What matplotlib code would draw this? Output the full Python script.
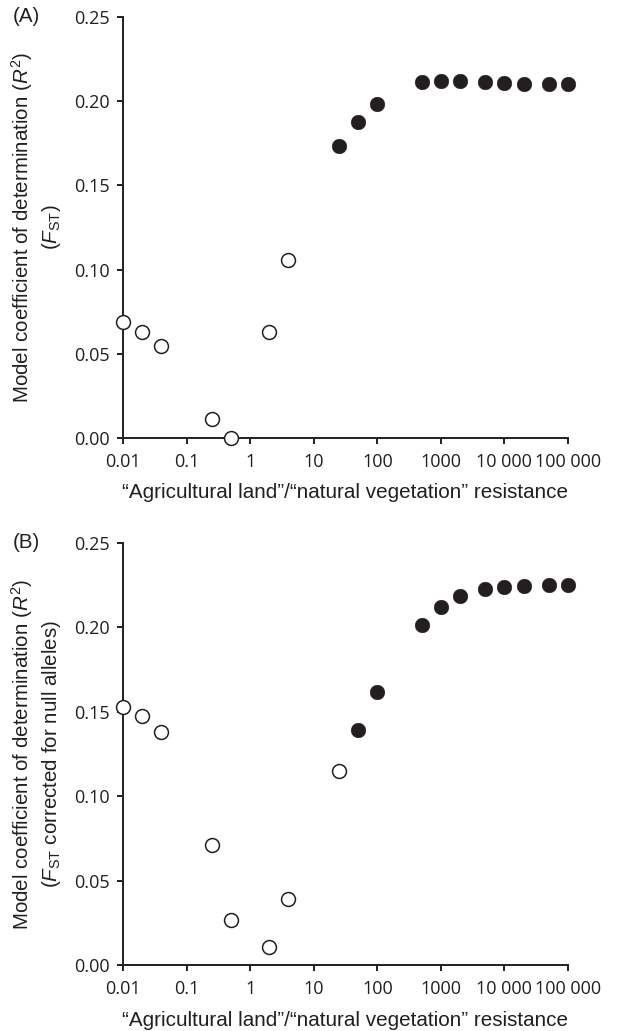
import matplotlib
matplotlib.use("Agg")
import matplotlib.pyplot as plt
from matplotlib.ticker import NullLocator

plt.rcParams['font.family'] = ['Liberation Sans', 'DejaVu Sans']
plt.rcParams['mathtext.fontset'] = 'custom'
plt.rcParams['mathtext.rm'] = 'Liberation Sans'
plt.rcParams['mathtext.it'] = 'Liberation Sans:italic'
plt.rcParams['mathtext.bf'] = 'Liberation Sans:bold'

# ---- data ----
resistance = [0.01, 0.02, 0.04, 0.25, 0.5, 2, 4, 25, 50, 100, 500, 1000, 2000,
              5000, 10000, 20000, 50000, 100000]

r2_fst = [0.0686, 0.0628, 0.0547, 0.0115, 0.0, 0.0628, 0.1057, 0.1733, 0.1875,
          0.1982, 0.2115, 0.2122, 0.2120, 0.2113, 0.2107, 0.2105, 0.2103, 0.2103]
filled_fst = [False, False, False, False, False, False, False, True, True, True,
              True, True, True, True, True, True, True, True]

r2_fst_null = [0.1530, 0.1474, 0.1381, 0.0708, 0.0265, 0.0107, 0.0389, 0.1152,
               0.1393, 0.1617, 0.2016, 0.2121, 0.2184, 0.2229, 0.2241, 0.2247,
               0.2253, 0.2253]
filled_null = [False, False, False, False, False, False, False, False, True, True,
               True, True, True, True, True, True, True, True]

xticks = [0.01, 0.1, 1, 10, 100, 1000, 10000, 100000]
xticklabels = ["0.01", "0.1", "1", "10", "100", "1000", "10 000", "100 000"]
yticks = [0.00, 0.05, 0.10, 0.15, 0.20, 0.25]
yticklabels = ["0.00", "0.05", "0.10", "0.15", "0.20", "0.25"]

xlabel = "\u201cAgricultural land\u201d/\u201cnatural vegetation\u201d resistance"
ylabel_line1 = "Model coefficient of determination ($R^{2}$)"
ylabel_line2 = ["($F_{\\mathrm{ST}}$)", "($F_{\\mathrm{ST}}$ corrected for null alleles)"]
panel_letters = ["(A)", "(B)"]

dark = "#231f20"
TICK_FONT = ['Open Sans', 'DejaVu Sans']
FS_TICK = 13

fig = plt.figure(figsize=(6.17, 10.31), dpi=100)
W, H = 617, 1031
axes_px = [(123, 17, 568, 438), (123, 543, 568, 965)]
datasets = [(r2_fst, filled_fst), (r2_fst_null, filled_null)]

renderer = fig.canvas.get_renderer()


def fit_size(s, target_px, base=13.0):
    t = fig.text(0, 0, s, fontsize=base)
    w = t.get_window_extent(renderer).width
    t.remove()
    return base * target_px / w


fs_x = fit_size(xlabel, 446)
fs_y = fit_size(ylabel_line1, 350)

for i, (x0, y0, x1, y1) in enumerate(axes_px):
    ax = fig.add_axes([x0 / W, 1 - y1 / H, (x1 - x0) / W, (y1 - y0) / H])
    vals, filled = datasets[i]
    xo = [x for x, f in zip(resistance, filled) if not f]
    yo = [y for y, f in zip(vals, filled) if not f]
    xf = [x for x, f in zip(resistance, filled) if f]
    yf = [y for y, f in zip(vals, filled) if f]
    ax.plot(xo, yo, 'o', ms=10.0, mfc='white', mec=dark, mew=1.1,
            clip_on=False, zorder=5)
    ax.plot(xf, yf, 'o', ms=10.6, mfc=dark, mec=dark, mew=0.3,
            clip_on=False, zorder=5)
    ax.set_xscale('log')
    ax.set_xlim(0.01, 100000)
    ax.set_ylim(0, 0.25)
    ax.set_xticks(xticks)
    ax.set_xticklabels(xticklabels, fontsize=FS_TICK, color=dark, family=TICK_FONT)
    ax.xaxis.set_minor_locator(NullLocator())
    ax.set_yticks(yticks)
    ax.set_yticklabels(yticklabels, fontsize=FS_TICK, color=dark, family=TICK_FONT)
    for s in ['top', 'right']:
        ax.spines[s].set_visible(False)
    for s in ['left', 'bottom']:
        ax.spines[s].set_linewidth(1.4)
        ax.spines[s].set_color(dark)
    ax.tick_params(direction='out', length=4, width=1.4, color=dark)
    ax.tick_params(axis='x', pad=7)
    ax.tick_params(axis='y', pad=5.5)
    ax.set_xlabel(xlabel, fontsize=fs_x, color=dark)
    ax.xaxis.set_label_coords(0.5, -(493 - 438) / (y1 - y0))
    ax.xaxis.label.set_va('center')
    ax.set_ylabel(ylabel_line1 + "\n" + ylabel_line2[i], fontsize=fs_y, color=dark,
                  linespacing=1.3, multialignment='center')
    ax.yaxis.set_label_coords((36 - x0) / (x1 - x0), 0.5)
    ax.yaxis.label.set_va('center')
    fig.text(26 / W, 1 - y0 / H, panel_letters[i], fontsize=fs_y, color=dark,
             ha='center', va='center')

fig.savefig("out.png", dpi=100)
